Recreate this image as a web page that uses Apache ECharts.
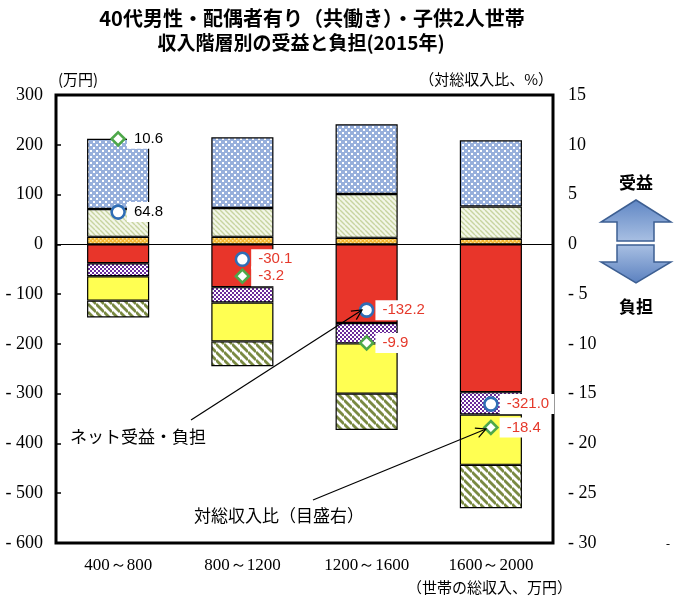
<!DOCTYPE html>
<html>
<head>
<meta charset="utf-8">
<script src="https://cdn.jsdelivr.net/npm/echarts@6/dist/echarts.min.js"></script>
<style>
    html, body { margin: 0; padding: 0; background: #fff; }
    #chart { width: 680px; height: 601px; }
</style>
</head>
<body>
<div id="chart"></div>
<script>
// 世帯の総収入（万円）
var categories = ['400～800', '800～1200', '1200～1600', '1600～2000'];

// 受益（プラス側、下から）
var orangeVals     = [15, 15, 13, 11];
var lightGreenVals = [56, 58, 88, 65];
var blueVals       = [141, 142, 140, 133];

// 負担（マイナス側、上から）
var redVals       = [-38, -86, -158, -297];
var purpleVals    = [-26, -31, -41, -45];
var yellowVals    = [-49, -78, -101, -101];
var darkHatchVals = [-34, -50, -73, -87];

// ネット受益・負担（万円）と対総収入比（%）
var netVals   = [64.8, -30.1, -132.2, -321.0];
var ratioVals = [10.6, -3.2, -9.9, -18.4];

// 目盛
var leftMin = -600, leftMax = 300, leftStep = 100;
var rightMin = -30, rightMax = 15, rightStep = 5;

var RED_TEXT = '#e5392b';
var SERIF = '"Liberation Serif", "DejaVu Serif", serif';
var SANS = '"Liberation Sans", Arial, sans-serif';
var JP = '"Noto Sans CJK JP", sans-serif';

// パターン用の小さなキャンバス
function makeCanvas(size, draw) {
    var c = document.createElement('canvas');
    c.width = size;
    c.height = size;
    draw(c.getContext('2d'), size);
    return { image: c, repeat: 'repeat' };
}

var dotsBlue = makeCanvas(6, function (ctx, n) {
    ctx.fillStyle = '#98b0dc';
    ctx.fillRect(0, 0, n, n);
    ctx.fillStyle = '#ffffff';
    ctx.fillRect(0, 0, 2, 2);
    ctx.fillRect(3, 3, 2, 2);
});

var dotsOrange = makeCanvas(4, function (ctx, n) {
    ctx.fillStyle = '#f3b532';
    ctx.fillRect(0, 0, n, n);
    ctx.fillStyle = '#fde49a';
    ctx.fillRect(0, 0, 1.5, 1.5);
    ctx.fillRect(2, 2, 1.5, 1.5);
});

var checkPurple = makeCanvas(4, function (ctx, n) {
    ctx.fillStyle = '#ffffff';
    ctx.fillRect(0, 0, n, n);
    ctx.fillStyle = '#6a2c9a';
    ctx.fillRect(0, 0, 2, 2);
    ctx.fillRect(2, 2, 2, 2);
});

function hatch(size, bg, fg, width) {
    return makeCanvas(size, function (ctx, n) {
        ctx.fillStyle = bg;
        ctx.fillRect(0, 0, n, n);
        ctx.strokeStyle = fg;
        ctx.lineWidth = width;
        [-n, 0, n].forEach(function (c) {
            ctx.beginPath();
            ctx.moveTo(0, c);
            ctx.lineTo(n, n + c);
            ctx.stroke();
        });
    });
}

var hatchLight = hatch(5, '#f3f6e8', '#c8d4a0', 1.4);
var hatchDark = hatch(8, '#ffffff', '#7a8a42', 2.8);

function barSeries(name, data, color, extra) {
    var s = {
        name: name,
        type: 'bar',
        stack: 'total',
        barWidth: '50%',
        itemStyle: {
            color: color,
            borderColor: '#000',
            borderWidth: 1.2
        },
        data: data
    };
    if (extra) {
        for (var k in extra) s[k] = extra[k];
    }
    return s;
}

function pointLabel() {
    return {
        show: true,
        position: 'right',
        distance: 1,
        fontFamily: SANS,
        fontSize: 15,
        backgroundColor: '#fff',
        padding: [3, 5, 2, 7],
        formatter: function (p) { return p.value.toFixed(1); }
    };
}

function withColor(vals) {
    return vals.map(function (v) {
        return { value: v, label: { color: v >= 0 ? '#000' : RED_TEXT } };
    });
}

function fmtTick(v) {
    return v < 0 ? '- ' + (-v) : String(v);
}

function arrowHead(ax, ay, bx, by) {
    var dx = bx - ax, dy = by - ay;
    var len = Math.sqrt(dx * dx + dy * dy);
    var ux = dx / len, uy = dy / len;
    var px = -uy, py = ux;
    var cx = bx - 10 * ux, cy = by - 10 * uy;
    return [[cx + 5 * px, cy + 5 * py], [bx, by], [cx - 5 * px, cy - 5 * py]];
}

var chart = echarts.init(document.getElementById('chart'));
chart.setOption({
    animation: false,
    backgroundColor: '#fff',
    grid: {
        left: 56,
        right: 127,
        top: 95,
        bottom: 58,
        show: true,
        borderColor: '#000',
        borderWidth: 3
    },
    xAxis: {
        type: 'category',
        data: categories,
        axisLine: { show: false, onZero: false },
        axisTick: { show: false },
        axisLabel: { fontFamily: SERIF, fontSize: 17, color: '#000', margin: 14 }
    },
    yAxis: [
        {
            type: 'value',
            min: leftMin,
            max: leftMax,
            interval: leftStep,
            axisLine: { show: false },
            axisTick: { show: true, inside: true, length: 5, lineStyle: { color: '#000', width: 1.5 } },
            splitLine: { show: false },
            axisLabel: { fontFamily: SERIF, fontSize: 18, color: '#000', margin: 13, formatter: fmtTick }
        },
        {
            type: 'value',
            min: rightMin,
            max: rightMax,
            interval: rightStep,
            axisLine: { show: false },
            axisTick: { show: false },
            splitLine: { show: false },
            axisLabel: { fontFamily: SERIF, fontSize: 18, color: '#000', margin: 15, formatter: fmtTick }
        }
    ],
    series: [
        barSeries('受益1', orangeVals, dotsOrange, {
            markLine: {
                silent: true,
                symbol: ['none', 'none'],
                label: { show: false },
                lineStyle: { color: '#000', width: 1, type: 'solid' },
                data: [{ yAxis: 0 }]
            }
        }),
        barSeries('受益2', lightGreenVals, hatchLight),
        barSeries('受益3', blueVals, dotsBlue),
        barSeries('負担1', redVals, '#e8352a'),
        barSeries('負担2', purpleVals, checkPurple),
        barSeries('負担3', yellowVals, '#ffff52'),
        barSeries('負担4', darkHatchVals, hatchDark),
        {
            name: 'ネット受益・負担',
            type: 'scatter',
            yAxisIndex: 0,
            symbol: 'circle',
            symbolSize: 13,
            itemStyle: { color: '#fff', borderColor: '#2f6db5', borderWidth: 2.6, opacity: 1 },
            label: pointLabel(),
            data: withColor(netVals),
            z: 5
        },
        {
            name: '対総収入比',
            type: 'scatter',
            yAxisIndex: 1,
            symbol: 'diamond',
            symbolSize: 13,
            itemStyle: { color: '#fff', borderColor: '#4ea84a', borderWidth: 2.6, opacity: 1 },
            label: pointLabel(),
            data: withColor(ratioVals),
            z: 5
        }
    ],
    graphic: [
        { type: 'text', x: 312, y: 18, style: { text: '40代男性・配偶者有り（共働き）・子供2人世帯', font: 'bold 20px ' + JP, fill: '#000', align: 'center', verticalAlign: 'middle' } },
        { type: 'text', x: 301, y: 43, style: { text: '収入階層別の受益と負担(2015年)', font: 'bold 19px ' + JP, fill: '#000', align: 'center', verticalAlign: 'middle' } },
        { type: 'text', x: 58, y: 72, style: { text: '(万円)', font: '15px ' + JP, fill: '#000' } },
        { type: 'text', x: 553, y: 72, style: { text: '（対総収入比、%）', font: '15px ' + JP, fill: '#000', align: 'right' } },
        { type: 'text', x: 572, y: 580, style: { text: '（世帯の総収入、万円）', font: '15px ' + JP, fill: '#000', align: 'right' } },
        { type: 'text', x: 70, y: 428, style: { text: 'ネット受益・負担', font: '17px ' + JP, fill: '#000' } },
        { type: 'text', x: 194, y: 507, style: { text: '対総収入比（目盛右）', font: '17px ' + JP, fill: '#000' } },
        { type: 'line', shape: { x1: 191, y1: 420, x2: 362, y2: 310 }, style: { stroke: '#000', lineWidth: 1.2 }, z: 10 },
        { type: 'polyline', shape: { points: arrowHead(191, 420, 362, 310) }, style: { stroke: '#000', lineWidth: 1.2, fill: null }, z: 10 },
        { type: 'line', shape: { x1: 313, y1: 500, x2: 486, y2: 429 }, style: { stroke: '#000', lineWidth: 1.2 }, z: 10 },
        { type: 'polyline', shape: { points: arrowHead(313, 500, 486, 429) }, style: { stroke: '#000', lineWidth: 1.2, fill: null }, z: 10 },
        { type: 'text', x: 636, y: 174, style: { text: '受益', font: 'bold 17px ' + JP, fill: '#000', align: 'center' } },
        { type: 'text', x: 636, y: 298, style: { text: '負担', font: 'bold 17px ' + JP, fill: '#000', align: 'center' } },
        {
            type: 'polygon',
            shape: { points: [[636, 200], [671, 222], [654, 222], [654, 241], [617, 241], [617, 222], [601, 222]] },
            style: {
                fill: new echarts.graphic.LinearGradient(0, 0, 0, 1, [
                    { offset: 0, color: '#5f86c4' },
                    { offset: 1, color: '#a9c0e3' }
                ]),
                stroke: '#3d5f92',
                lineWidth: 1.5
            }
        },
        {
            type: 'polygon',
            shape: { points: [[617, 245], [654, 245], [654, 262], [671, 262], [636, 283], [601, 262], [617, 262]] },
            style: {
                fill: new echarts.graphic.LinearGradient(0, 0, 0, 1, [
                    { offset: 0, color: '#a9c0e3' },
                    { offset: 1, color: '#5a80bf' }
                ]),
                stroke: '#3d5f92',
                lineWidth: 1.5
            }
        },
        { type: 'text', x: 666, y: 539, style: { text: '-', font: '12px ' + SERIF, fill: '#000' } }
    ]
});
</script>
</body>
</html>
